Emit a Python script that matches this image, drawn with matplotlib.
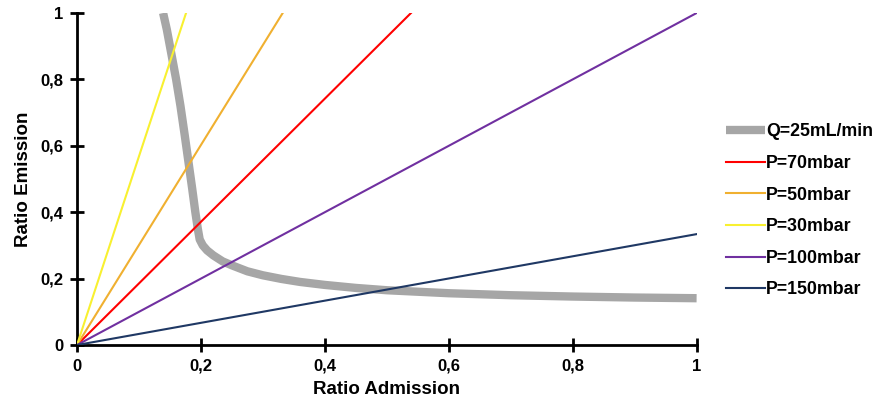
import matplotlib
matplotlib.use('Agg')
import matplotlib.pyplot as plt
from matplotlib.ticker import FuncFormatter

plt.rcParams['font.family'] = ['Liberation Sans', 'DejaVu Sans']
plt.rcParams['font.weight'] = 'bold'

# Q=25mL/min curve
q_x = [0.139, 0.145, 0.152, 0.16, 0.167, 0.174, 0.18, 0.186, 0.191, 0.195, 0.198,
       0.203, 0.21, 0.22, 0.235, 0.25, 0.275, 0.3, 0.33, 0.36, 0.4, 0.45, 0.5,
       0.6, 0.7, 0.8, 0.9, 1.0]
q_y = [1.0, 0.95, 0.88, 0.8, 0.72, 0.63, 0.55, 0.47, 0.4, 0.35, 0.318,
       0.3, 0.285, 0.27, 0.252, 0.24, 0.222, 0.21, 0.199, 0.19, 0.181, 0.172, 0.165,
       0.156, 0.15, 0.146, 0.143, 0.141]

# straight lines through origin: end points
lines = [
    ('P=70mbar', [0, 0.539], [0, 1.0], '#FF0000'),
    ('P=50mbar', [0, 0.332], [0, 1.0], '#F0B030'),
    ('P=30mbar', [0, 0.176], [0, 1.0], '#F8F030'),
    ('P=100mbar', [0, 1.0], [0, 1.0], '#7030A0'),
    ('P=150mbar', [0, 1.0], [0, 0.334], '#1F3864'),
]

xticks = [0, 0.2, 0.4, 0.6, 0.8, 1]
yticks = [0, 0.2, 0.4, 0.6, 0.8, 1]

fig = plt.figure(figsize=(8.83, 4.07), dpi=100)
ax = fig.add_axes([0.0872, 0.1523, 0.7017, 0.8157])

ax.plot(q_x, q_y, color='#A6A6A6', lw=6, label='Q=25mL/min', solid_capstyle='butt',
        solid_joinstyle='round', zorder=2)
for name, xs, ys, c in lines:
    ax.plot(xs, ys, color=c, lw=1.5, label=name, zorder=3)

ax.set_xlim(0, 1)
ax.set_ylim(0, 1)
ax.set_xticks(xticks)
ax.set_yticks(yticks)
fmt = FuncFormatter(lambda v, p: ('%g' % v).replace('.', ','))
ax.xaxis.set_major_formatter(fmt)
ax.yaxis.set_major_formatter(fmt)
ax.tick_params(direction='inout', length=10, width=2, labelsize=12, pad=5)
for s in ['top', 'right']:
    ax.spines[s].set_visible(False)
for s in ['left', 'bottom']:
    ax.spines[s].set_linewidth(2)

ax.set_xlabel('Ratio Admission', fontsize=13.5, fontweight='bold', labelpad=5)
ax.set_ylabel('Ratio Emission', fontsize=13.5, fontweight='bold', labelpad=6)

ax.legend(loc='center left', bbox_to_anchor=(1.048, 0.404), frameon=False,
          borderaxespad=0, borderpad=0,
          handlelength=2.2, handletextpad=0.05, labelspacing=0.82,
          prop={'weight': 'bold', 'size': 12.8})

fig.savefig('out.png', dpi=100)
